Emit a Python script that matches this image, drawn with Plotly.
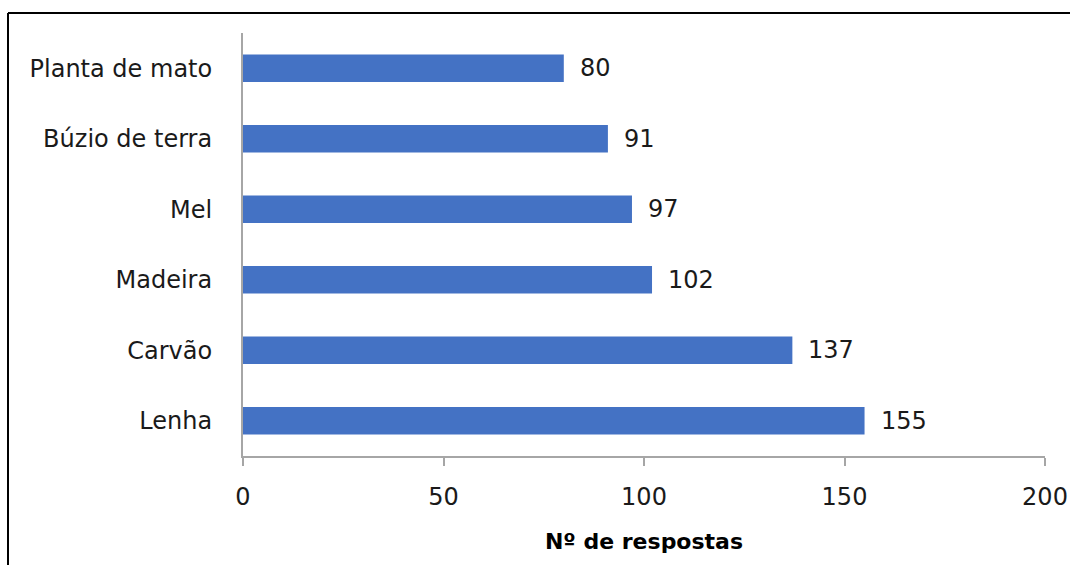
import plotly.graph_objects as go

categories = ["Lenha", "Carvão", "Madeira", "Mel", "Búzio de terra", "Planta de mato"]
values = [155, 137, 102, 97, 91, 80]
x_ticks = [0, 50, 100, 150, 200]

W, H = 1070, 565
ml, mr, mt, mb = 243, 25, 33, 109
pw, ph = W - ml - mr, H - mt - mb

FONT = "DejaVu Sans"

fig = go.Figure(go.Bar(
    x=values, y=categories, orientation="h",
    marker=dict(color="#4472C4", line=dict(width=0)),
    width=0.39,
))

for v, c in zip(values, categories):
    fig.add_annotation(x=v, y=c, text=str(v), showarrow=False,
                       xanchor="left", yanchor="middle", xshift=14,
                       font=dict(family=FONT, size=24, color="#1a1a1a"))

fig.update_layout(
    width=W, height=H,
    margin=dict(l=ml, r=mr, t=mt, b=mb),
    paper_bgcolor="white", plot_bgcolor="white",
    showlegend=False,
    xaxis=dict(range=[0, 200], tickvals=x_ticks, showgrid=False, zeroline=False,
               automargin=False,
               showline=True, linecolor="#a6a6a6", linewidth=2,
               ticks="outside", ticklen=8, tickwidth=2, tickcolor="#a6a6a6",
               ticklabelstandoff=10,
               tickfont=dict(family=FONT, size=24, color="#1a1a1a"),
               title=dict(text="<b>Nº de respostas</b>", standoff=24,
                          font=dict(family=FONT, size=22, color="#000000"))),
    yaxis=dict(range=[-0.5, 5.5], showgrid=False, zeroline=False,
               automargin=False,
               showline=True, linecolor="#a6a6a6", linewidth=2, ticks="",
               ticklabelstandoff=24,
               tickfont=dict(family=FONT, size=24, color="#1a1a1a")),
    shapes=[
        dict(type="line", xref="paper", yref="paper",
             x0=(8 - ml) / pw, x1=(W - ml) / pw,
             y0=1 + (mt - 13) / ph, y1=1 + (mt - 13) / ph,
             line=dict(color="#000000", width=2)),
        dict(type="line", xref="paper", yref="paper",
             x0=(8 - ml) / pw, x1=(8 - ml) / pw,
             y0=1 + (mt - 13) / ph, y1=-(mb + 5) / ph,
             line=dict(color="#000000", width=2)),
    ],
)

page_fix = (
    "document.documentElement.style.margin='0';"
    "document.documentElement.style.overflow='hidden';"
    "document.body.style.margin='0';"
    "document.body.style.overflow='hidden';"
)
fig.write_html("out.html", post_script=page_fix,
               config={"displayModeBar": False})
